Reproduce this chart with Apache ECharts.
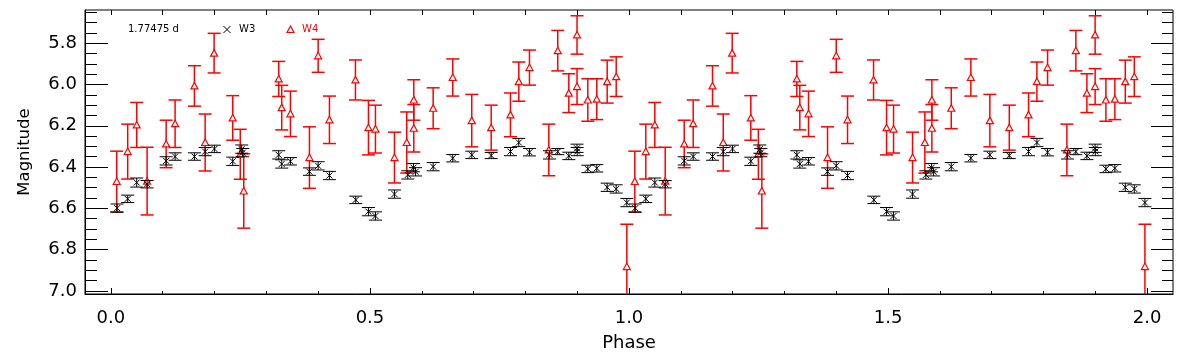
<!DOCTYPE html>
<html>
<head>
<meta charset="utf-8">
<script src="https://cdn.jsdelivr.net/npm/echarts@6/dist/echarts.min.js"></script>
<style>
html,body{margin:0;padding:0;background:#fff;}
#chart{width:1189px;height:362px;}
</style>
</head>
<body>
<div id="chart"></div>
<script>
// ---- Data (one cycle, phase 0..1; plotted twice as phase and phase+1) ----
const w3Phase = [0.012,0.0324,0.0498,0.0699,0.1066,0.1239,0.1612,0.1819,0.1998,0.2351,0.2525,0.2545,0.3239,0.3297,0.3465,0.3832,0.4000,0.4218,0.4726,0.4971,0.5106,0.5473,0.5730,0.5840,0.5880,0.6220,0.6598,0.6965,0.7340,0.7712,0.7873,0.8079,0.8465,0.8625,0.8838,0.8997,0.9000,0.9205,0.9378,0.9579,0.9753,0.9958];
const w3Mag   = [6.599,6.554,6.475,6.483,6.370,6.349,6.349,6.325,6.312,6.372,6.313,6.330,6.341,6.385,6.372,6.422,6.394,6.441,6.559,6.616,6.637,6.531,6.438,6.403,6.423,6.398,6.357,6.341,6.344,6.325,6.281,6.328,6.341,6.325,6.346,6.309,6.325,6.409,6.406,6.498,6.506,6.572];
const w3Err   = [0.020,0.018,0.022,0.018,0.020,0.018,0.018,0.020,0.018,0.020,0.020,0.020,0.020,0.020,0.018,0.018,0.020,0.020,0.018,0.020,0.020,0.020,0.020,0.020,0.020,0.020,0.018,0.018,0.015,0.020,0.020,0.018,0.020,0.015,0.018,0.020,0.020,0.018,0.018,0.020,0.020,0.020];

const w4Phase = [0.0112,0.0324,0.0498,0.0699,0.1066,0.1239,0.1612,0.1819,0.1992,0.2351,0.2497,0.2564,0.3239,0.3297,0.3465,0.3832,0.4000,0.4218,0.4720,0.4971,0.5106,0.5473,0.5710,0.5846,0.5846,0.6220,0.6598,0.6965,0.7340,0.7712,0.7873,0.8079,0.8452,0.8625,0.8838,0.8997,0.8997,0.9205,0.9378,0.9579,0.9753,0.9958];
const w4Mag   = [6.470,6.325,6.196,6.468,6.288,6.190,6.007,6.281,5.848,6.162,6.338,6.516,5.973,6.112,6.142,6.354,5.861,6.171,5.978,6.209,6.216,6.354,6.281,6.075,6.212,6.115,5.966,6.175,6.209,6.147,5.986,5.918,6.317,5.836,6.042,5.760,6.010,6.075,6.071,5.986,5.962,6.882];
const w4Err   = [0.147,0.133,0.109,0.164,0.115,0.115,0.098,0.138,0.096,0.108,0.121,0.180,0.085,0.108,0.110,0.149,0.080,0.115,0.097,0.132,0.116,0.123,0.148,0.098,0.115,0.099,0.090,0.127,0.109,0.106,0.095,0.085,0.125,0.098,0.094,0.093,0.087,0.103,0.099,0.104,0.096,0.205];

const periodLabel = '1.77475 d';
const xTickValues = [0.0, 0.5, 1.0, 1.5, 2.0];
const yTickValues = [5.8, 6.0, 6.2, 6.4, 6.6, 6.8, 7.0];
const xRange = [-0.05, 2.05];
const yRange = [5.639, 7.015];

// ---- Build folded data (each point shown at phase and phase+1) ----
function fold(ph, mg, er) {
  const out = [];
  for (let c = 0; c < 2; c++) {
    for (let i = 0; i < ph.length; i++) out.push([ph[i] + c, mg[i], er[i]]);
  }
  return out;
}
const w3Data = fold(w3Phase, w3Mag, w3Err);
const w4Data = fold(w4Phase, w4Mag, w4Err);

// minor tick positions
const xMinor = [], yMinor = [];
for (let i = 0; i <= 20; i++) xMinor.push(+(i * 0.1).toFixed(2));
for (let i = 0; i <= 28; i++) yMinor.push(+(5.65 + i * 0.05).toFixed(2));

const FONT = 'DejaVu Sans';
const RED = '#ff0000';

function renderer(kind) {
  const col = kind === 'w4' ? RED : '#000';
  const lw = kind === 'w4' ? 1.5 : 1;
  return function (params, api) {
    const p = api.value(0), m = api.value(1), e = api.value(2);
    const c = api.coord([p, m]);
    const t = api.coord([p, m - e]);
    const b = api.coord([p, m + e]);
    const hw = 6.5;
    const st = { stroke: col, lineWidth: lw, fill: null };
    const ch = [
      { type: 'line', shape: { x1: c[0], y1: t[1], x2: c[0], y2: b[1] }, style: st },
      { type: 'line', shape: { x1: c[0] - hw, y1: t[1], x2: c[0] + hw, y2: t[1] }, style: st },
      { type: 'line', shape: { x1: c[0] - hw, y1: b[1], x2: c[0] + hw, y2: b[1] }, style: st }
    ];
    if (kind === 'w4') {
      ch.push({ type: 'polygon', shape: { points: [[c[0] - 3.5, c[1] + 3], [c[0] + 3.5, c[1] + 3], [c[0], c[1] - 3.5]] },
        style: { stroke: RED, lineWidth: 1.2, fill: '#fff' } });
    } else {
      const s = 3;
      ch.push({ type: 'line', shape: { x1: c[0] - s, y1: c[1] - s, x2: c[0] + s, y2: c[1] + s }, style: { stroke: '#000', lineWidth: 1 } });
      ch.push({ type: 'line', shape: { x1: c[0] + s, y1: c[1] - s, x2: c[0] - s, y2: c[1] + s }, style: { stroke: '#000', lineWidth: 1 } });
    }
    return { type: 'group', children: ch };
  };
}

const axisText = { color: '#000', fontFamily: FONT, fontSize: 18 };
function xAx(opts) {
  return Object.assign({
    type: 'value', min: xRange[0], max: xRange[1], gridIndex: 0,
    splitLine: { show: false }, minorTick: { show: false },
    axisLine: { show: false, onZero: false }, axisLabel: { show: false }
  }, opts);
}
function yAx(opts) {
  return Object.assign({
    type: 'value', min: yRange[0], max: yRange[1], inverse: true, gridIndex: 0,
    splitLine: { show: false }, minorTick: { show: false },
    axisLine: { show: false, onZero: false }, axisLabel: { show: false }
  }, opts);
}

const chart = echarts.init(document.getElementById('chart'), null, { renderer: 'canvas' });
chart.setOption({
  animation: false,
  backgroundColor: '#fff',
  grid: { left: 85, top: 10, width: 1088, height: 284, show: true, borderColor: '#000', borderWidth: 1, backgroundColor: 'transparent', containLabel: false },
  xAxis: [
    xAx({ position: 'bottom',
      axisLine: { show: true, onZero: false, lineStyle: { color: '#000', width: 1 } },
      axisTick: { show: true, inside: true, length: 6, customValues: xTickValues, lineStyle: { color: '#000' } },
      axisLabel: Object.assign({ show: true, margin: 15, customValues: xTickValues, formatter: v => v.toFixed(1) }, axisText),
      name: 'Phase', nameLocation: 'middle', nameGap: 40,
      nameTextStyle: { color: '#000', fontFamily: FONT, fontSize: 18 } }),
    xAx({ position: 'bottom', axisTick: { show: true, inside: true, length: 3, customValues: xMinor, lineStyle: { color: '#000' } } }),
    xAx({ position: 'top', axisTick: { show: true, inside: true, length: 5, customValues: xMinor, lineStyle: { color: '#000' } } })
  ],
  yAxis: [
    yAx({ position: 'left',
      axisLine: { show: true, onZero: false, lineStyle: { color: '#000', width: 1 } },
      axisTick: { show: true, inside: true, length: 23, customValues: yTickValues, lineStyle: { color: '#000' } },
      axisLabel: Object.assign({ show: true, margin: 8, customValues: yTickValues, formatter: v => v.toFixed(1) }, axisText),
      name: 'Magnitude', nameLocation: 'middle', nameGap: 52, nameRotate: 90,
      nameTextStyle: { color: '#000', fontFamily: FONT, fontSize: 16.5 } }),
    yAx({ position: 'left', axisTick: { show: true, inside: true, length: 12, customValues: yMinor, lineStyle: { color: '#000' } } }),
    yAx({ position: 'right', axisTick: { show: true, inside: true, length: 22, customValues: yTickValues, lineStyle: { color: '#000' } } }),
    yAx({ position: 'right', axisTick: { show: true, inside: true, length: 11, customValues: yMinor, lineStyle: { color: '#000' } } })
  ],
  series: [
    { name: 'W4', type: 'custom', xAxisIndex: 0, yAxisIndex: 0, clip: true, renderItem: renderer('w4'),
      encode: { x: 0, y: 1 }, data: w4Data, z: 2 },
    { name: 'W3', type: 'custom', xAxisIndex: 0, yAxisIndex: 0, clip: true, renderItem: renderer('w3'),
      encode: { x: 0, y: 1 }, data: w3Data, z: 3 }
  ],
  graphic: [
    { type: 'text', left: 128, top: 24, style: { text: periodLabel, fill: '#000', font: '10px "DejaVu Sans"' } },
    { type: 'line', shape: { x1: 223.5, y1: 26, x2: 230.5, y2: 33 }, style: { stroke: '#000', lineWidth: 1 } },
    { type: 'line', shape: { x1: 230.5, y1: 26, x2: 223.5, y2: 33 }, style: { stroke: '#000', lineWidth: 1 } },
    { type: 'text', left: 239, top: 24, style: { text: 'W3', fill: '#000', font: '10px "DejaVu Sans"' } },
    { type: 'polygon', shape: { points: [[287, 32.5], [294, 32.5], [290.5, 26]] }, style: { stroke: RED, fill: 'none', lineWidth: 1.2 } },
    { type: 'text', left: 302, top: 24, style: { text: 'W4', fill: RED, font: '10px "DejaVu Sans"' } }
  ]
});
</script>
</body>
</html>
